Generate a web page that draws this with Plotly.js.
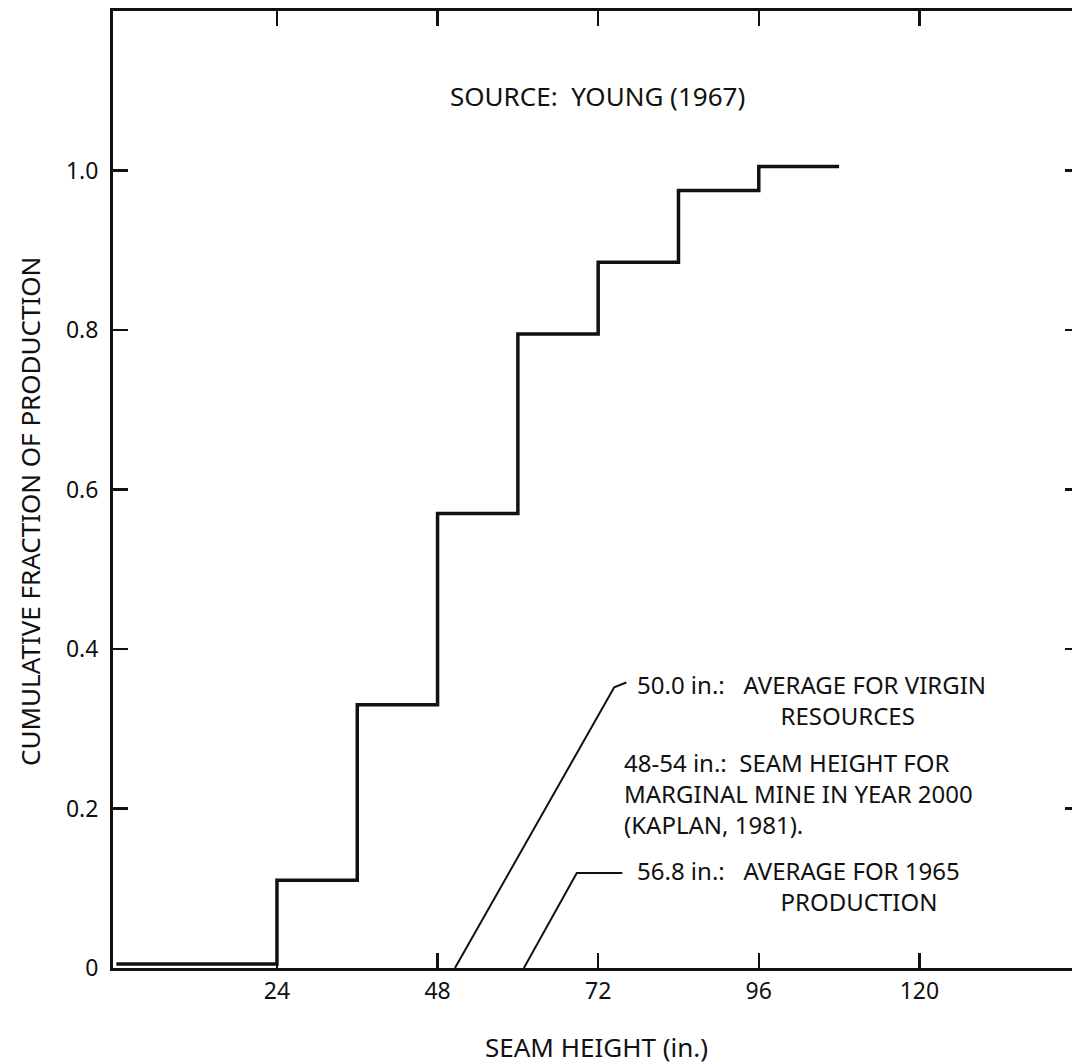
<!DOCTYPE html>
<html><head><meta charset="utf-8">
<script src="https://cdn.plot.ly/plotly-3.0.1.min.js"></script>
<style>html,body{margin:0;padding:0;overflow:hidden;background:#fff}#chart{width:1090px;height:1064px}</style>
</head><body><div id="chart"></div>
<script>
// ---- data ----
const seamHeightEdges = [0, 24, 36, 48, 60, 72, 84, 96, 108];
const cumulativeFraction = [0.005, 0.11, 0.33, 0.57, 0.795, 0.885, 0.975, 1.005];
const xTickVals = [24, 48, 72, 96, 120];
const xTickText = ['24', '48', '72', '96', '120'];
const yTickVals = [0, 0.2, 0.4, 0.6, 0.8, 1.0];
const yTickText = ['0', '0.2', '0.4', '0.6', '0.8', '1.0'];
const virginLeaderX = [50.6, 74.4, 76.2];
const virginLeaderY = [0, 0.352, 0.358];
const prodLeaderX = [60.9, 68.8, 75.6];
const prodLeaderY = [0, 0.119, 0.119];
const NB = '\u00a0';
const virginNote = ['50.0 in.:' + NB + NB + NB + 'AVERAGE FOR VIRGIN', NB.repeat(23) + 'RESOURCES'];
const marginalNote = ['48-54 in.:' + NB + NB + 'SEAM HEIGHT FOR', 'MARGINAL MINE IN YEAR 2000', '(KAPLAN, 1981).'];
const productionNote = ['56.8 in.:' + NB + NB + NB + 'AVERAGE FOR 1965', NB.repeat(23) + 'PRODUCTION'];
const sourceText = 'SOURCE:' + NB + NB + 'YOUNG (1967)';
const xTitle = 'SEAM HEIGHT (in.)';
const yTitle = 'CUMULATIVE FRACTION OF PRODUCTION';

// ---- geometry ----
const W = 1090, H = 1064, L = 113, R = 1080, T = 11, B = 968;
const xRange = [-0.5, 144], yRange = [0, 1.2];
const px2x = p => xRange[0] + (p - L) / (R - L) * (xRange[1] - xRange[0]);
const py2y = p => yRange[0] + (B - p) / (B - T) * (yRange[1] - yRange[0]);
const px2paper = p => (p - L) / (R - L);
const py2paper = p => (B - p) / (B - T);

const FONT = 'Noto Sans, DejaVu Sans, sans-serif';
const INK = '#111111';
const TXT = 26;
const NOTE = 24;

const stepX = seamHeightEdges.slice();
const stepY = cumulativeFraction.concat([cumulativeFraction[cumulativeFraction.length - 1]]);

const traces = [
  {x: stepX, y: stepY, type: 'scatter', mode: 'lines', line: {shape: 'hv', color: INK, width: 3.5}, hoverinfo: 'skip'},
  {x: virginLeaderX, y: virginLeaderY, type: 'scatter', mode: 'lines', line: {color: INK, width: 2}, hoverinfo: 'skip'},
  {x: prodLeaderX, y: prodLeaderY, type: 'scatter', mode: 'lines', line: {color: INK, width: 2}, hoverinfo: 'skip'}
];

const note = (lines, px, py) => ({
  text: lines.join('<br>'), x: px2x(px), y: py2y(py), xref: 'x', yref: 'y',
  xanchor: 'left', yanchor: 'middle', align: 'left', showarrow: false,
  font: {family: FONT, size: NOTE, color: INK}
});
const annotations = [
  note(virginNote, 635, 700),
  note(marginalNote, 622, 793),
  note(productionNote, 635, 886)
];
annotations.push({text: sourceText, x: px2x(597), y: py2y(96), xref: 'x', yref: 'y',
  xanchor: 'center', yanchor: 'middle', showarrow: false, font: {family: FONT, size: TXT, color: INK}});
annotations.push({text: xTitle, x: px2paper(596), y: py2paper(1047), xref: 'paper', yref: 'paper',
  xanchor: 'center', yanchor: 'middle', showarrow: false, font: {family: FONT, size: TXT, color: INK}});
annotations.push({text: yTitle, x: px2paper(30), y: py2paper(512), xref: 'paper', yref: 'paper', textangle: -90,
  xanchor: 'center', yanchor: 'middle', showarrow: false, font: {family: FONT, size: TXT, color: INK}});

const layout = {
  width: W, height: H,
  margin: {l: L, r: W - R, t: T, b: H - B},
  paper_bgcolor: '#fff', plot_bgcolor: '#fff',
  showlegend: false,
  font: {family: FONT, color: INK, size: 22},
  xaxis: {
    range: xRange, tickvals: xTickVals, ticktext: xTickText,
    showgrid: false, zeroline: false, showline: true, linecolor: INK, linewidth: 3,
    mirror: 'ticks', ticks: 'inside', ticklen: 15, tickwidth: 2.5, tickcolor: INK,
    tickfont: {family: FONT, size: 23, color: INK}, ticklabelstandoff: 0
  },
  yaxis: {
    range: yRange, tickvals: yTickVals, ticktext: yTickText,
    showgrid: false, zeroline: false, showline: true, linecolor: INK, linewidth: 3,
    mirror: 'ticks', ticks: 'inside', ticklen: 15, tickwidth: 2.5, tickcolor: INK,
    tickfont: {family: FONT, size: 23, color: INK}, ticklabelstandoff: 7
  },
  annotations: annotations
};

Plotly.newPlot('chart', traces, layout, {staticPlot: true, displayModeBar: false});
</script>
</body></html>
